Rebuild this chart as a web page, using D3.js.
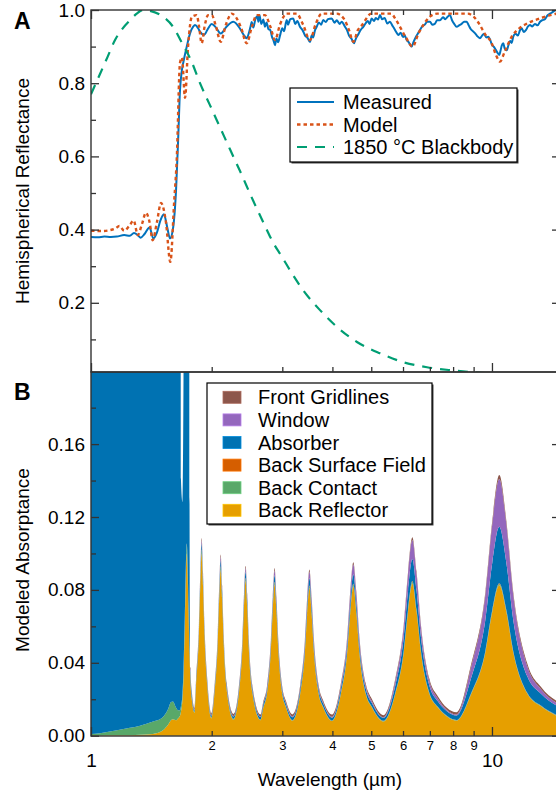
<!DOCTYPE html>
<html>
<head>
<meta charset="utf-8">
<script src="https://cdn.jsdelivr.net/npm/d3@7"></script>
<style>
body { margin: 0; background: #fff; }
svg { display: block; font-family: "Liberation Sans", Arial, sans-serif; }
</style>
</head>
<body>
<svg id="chart" width="556" height="795"></svg>
<script>
// ---- panel A : reflectance ----
var measuredWl = [1.00,1.04,1.08,1.12,1.16,1.21,1.25,1.28,1.31,1.33,1.36,1.40,1.43,1.46,1.49,1.52,1.55,1.574,1.60,1.63,1.65,1.667,1.685,1.70,
  1.733,1.766,1.80,1.817,1.85,1.87,1.913,1.96,2.00,2.05,2.106,2.18,2.264,2.35,2.40,2.445,2.48,2.50,2.516,2.54,2.57,2.60,2.614,2.63,2.66,2.69,
  2.716,2.74,2.77,2.80,2.83,2.85,2.877,2.90,2.93,2.96,3.00,3.03,3.076,3.10,3.14,3.195,3.23,3.27,3.32,3.37,3.42,3.46,3.49,3.517,3.55,3.58,
  3.62,3.655,3.70,3.75,3.796,3.85,3.90,3.984,4.05,4.10,4.17,4.22,4.30,4.35,4.40,4.46,4.528,4.57,4.65,4.70,4.776,4.85,4.90,4.95,5.012,5.08,
  5.13,5.20,5.257,5.32,5.40,5.48,5.567,5.64,5.70,5.77,5.838,5.92,6.00,6.06,6.128,6.20,6.25,6.307,6.37,6.45,6.53,6.614,6.70,6.80,6.90,7.006,
  7.10,7.20,7.30,7.42,7.55,7.65,7.76,7.859,7.95,8.05,8.166,8.28,8.40,8.52,8.648,8.75,8.85,8.984,9.10,9.20,9.333,9.45,9.55,9.68,9.79,9.90,
  10.00,10.10,10.20,10.30,10.43,10.50,10.58,10.67,10.76,10.88,11.00,11.10,11.20,11.30,11.45,11.60,11.75,11.86,12.00,12.15,12.30,12.44,
  12.60,12.80,13.00,13.18,13.35,13.55,13.75,13.95,14.20,14.44,14.80];
var measured = [.380,.379,.381,.380,.381,.385,.383,.391,.384,.378,.388,.406,.376,.392,.425,.442,.405,.376,.400,.510,.650,.780,.835,.858,
  .900,.936,.955,.959,.950,.941,.932,.950,.962,.952,.936,.955,.968,.950,.933,.923,.940,.955,.967,.952,.975,.983,.968,.986,.962,.974,
  .954,.966,.948,.945,.925,.918,.904,.922,.912,.930,.950,.942,.973,.960,.975,.977,.962,.970,.954,.945,.930,.925,.918,.913,.930,.925,
  .945,.954,.966,.960,.973,.967,.975,.977,.965,.972,.962,.968,.954,.945,.930,.922,.909,.920,.935,.945,.954,.965,.970,.962,.977,.970,
  .978,.974,.986,.975,.978,.963,.968,.958,.950,.940,.932,.938,.926,.930,.918,.912,.905,.900,.912,.925,.935,.945,.955,.960,.968,.968,
  .960,.962,.972,.972,.980,.975,.982,.986,.972,.962,.954,.958,.962,.968,.968,.958,.948,.941,.935,.928,.923,.930,.935,.925,.927,.918,
  .905,.900,.893,.885,.877,.888,.903,.909,.895,.890,.905,.915,.910,.927,.935,.930,.945,.950,.940,.945,.955,.959,
  .955,.962,.958,.968,.972,.975,.985,.990,.995,1.000,1.000];

var modelWl = [1.00,1.06,1.12,1.15,1.177,1.21,1.245,1.278,1.308,1.34,1.371,1.40,1.425,1.46,1.495,1.538,1.577,1.613,1.636,1.667,1.686,1.716,
  1.746,1.786,1.835,1.86,1.888,1.92,1.958,2.00,2.05,2.106,2.17,2.243,2.30,2.37,2.445,2.52,2.59,2.716,2.80,2.877,2.96,3.076,3.258,3.38,
  3.517,3.63,3.761,4.10,4.28,4.40,4.51,4.63,4.75,5.00,5.60,5.75,5.896,6.10,6.341,6.55,6.743,7.00,7.30,8.70,9.00,9.33,9.60,9.98,10.25,
  10.47,10.75,11.20,11.70,12.23,13.18,14.00,14.80];
var model = [.397,.396,.399,.403,.410,.397,.410,.425,.385,.415,.446,.420,.371,.420,.473,.420,.312,.480,.590,.855,.870,.760,
  .900,.982,.986,.955,.909,.955,.986,.986,.955,.913,.960,.990,.980,.950,.909,.955,.986,.986,.955,.918,.960,.990,.990,.960,
  .918,.960,.990,.990,.975,.945,.913,.945,.960,.990,.990,.975,.954,.925,.900,.935,.959,.982,.990,.990,.982,.959,.935,.910,.875,
  .859,.885,.927,.950,.963,.977,.986,.992];

var blackbodyWl = [1.00,1.053,1.10,1.148,1.20,1.251,1.30,1.348,1.40,1.512,1.60,1.686,1.78,1.87,1.98,2.097,2.22,2.353,2.535,2.70,2.844,3.00,
  3.135,3.378,3.725,4.107,4.606,5.257,5.998,6.886,7.859,8.814,9.80];
var blackbody = [.770,.825,.872,.918,.950,.972,.990,1.000,.998,.982,.955,.910,.860,.800,.740,.680,.620,.560,.480,.416,.365,.324,
  .289,.235,.180,.134,.093,.062,.038,.024,.016,.011,.0075];

// ---- panel B : modeled absorptance per layer ----
var wlB = [
  1.000,1.053,1.161,1.251,1.325,1.428,1.486,1.512,1.556,1.583,1.601,1.629,1.648,1.667,
  1.676,1.691,1.701,1.711,1.733,1.751,1.761,1.770,1.786,1.812,
  1.828,1.858,1.873,1.888,1.903,1.919,1.950, 1.997,
  2.035,2.070,2.088,2.106,2.124,2.143,2.180, 2.267,
  2.340,2.384,2.407,2.430,2.453,2.476,2.524, 2.647,
  2.688,2.747,2.808,2.839,2.870,2.901,2.933,2.998,3.064, 3.180,
  3.325,3.414,3.459,3.505,3.552,3.599,3.695,3.794, 3.990,
  4.200,4.352,4.430,4.510,4.591,4.673,4.843,5.018, 5.363,
  5.741,6.028,6.177,6.330,6.486,6.647,6.979,7.328, 7.72, 8.155,
  8.881,9.624,10.019,10.430,10.858,11.303,12.249,13.274, 14.80];
var backReflector = [
  .0001,.0001,.0002,.0003,.0005,.0010,.0020,.0030,.0060,.0085,.0090,.0085,.0095,.0110,
  .013,.020,.032,.055,.100,.068,.045,.030,.019,.0125,
  .027,.055,.082,.100,.082,.055,.027, .0095,
  .025,.050,.075,.091,.075,.050,.025, .0088,
  .024,.047,.070,.085,.070,.047,.024, .0085,
  .015,.023,.046,.068,.083,.068,.046,.023,.0155, .0082,
  .023,.045,.066,.081,.066,.045,.023,.0155, .0080,
  .023,.045,.067,.082,.067,.045,.023,.0155, .0078,
  .023,.046,.068,.0835,.068,.046,.023,.0155, .0105, .0082,
  .023,.0455,.068,.0825,.068,.0455,.023,.016, .0100];
var backContact = [
  .0009,.0013,.0028,.0040,.0050,.0068,.0070,.0072,.0085,.0100,.0098,.0070,.0045,.0030,
  .003,.003,.004,.004,.005,.003,.002,.001,.0006,.0004,
  .0006,.001,.0014,.0016,.0014,.001,.0006, .0004,
  .0005,.001,.0013,.0015,.0013,.001,.0005, .0004,
  .0005,.0008,.0011,.0012,.0011,.0008,.0005, .0003,
  .0003,.0004,.0007,.001,.0011,.001,.0007,.0004,.0003, .0003,
  .0004,.0007,.0009,.001,.0009,.0007,.0004,.0003, .0003,
  .0004,.0007,.0009,.001,.0009,.0007,.0004,.0003, .0003,
  .0004,.0007,.0009,.001,.0009,.0007,.0004,.0003, .0003, .0003,
  .0004,.0006,.0008,.0008,.0008,.0006,.0004,.0003, .0003];
var backSurfaceField = [
  0,0,0,0,0,0,0,0,0,0,0,0,0,0,
  0,0,0,0,.0005,.0004,.0003,.0002,.0001,.0001,
  .0002,.0003,.0004,.0005,.0004,.0003,.0002, .0001,
  .0002,.0003,.0004,.0005,.0004,.0003,.0002, .0001,
  .0002,.0003,.0004,.0004,.0004,.0003,.0002, .0001,
  .0001,.0002,.0003,.0003,.0004,.0003,.0003,.0002,.0001, .0001,
  .0002,.0003,.0003,.0004,.0003,.0003,.0002,.0001, .0001,
  .0002,.0003,.0003,.0004,.0003,.0003,.0002,.0001, .0001,
  .0002,.0003,.0003,.0004,.0003,.0003,.0002,.0001, .0001, .0001,
  .0002,.0003,.0003,.0003,.0003,.0003,.0002,.0001, .0001];
var absorber = [
  .60,.60,.60,.60,.60,.60,.60,.60,.60,.60,.60,.60,.60,.60,
  .125,.105,.160,.500,.500,.400,.080,.004,.002,.001,
  .0015,.002,.0028,.0032,.0028,.002,.0015, .001,
  .0015,.002,.0028,.0032,.0028,.002,.0015, .0012,
  .0016,.0022,.003,.0034,.003,.0022,.0016, .0013,
  .0015,.0017,.0024,.0032,.0036,.0032,.0024,.0017,.0015, .0015,
  .002,.0028,.0036,.004,.0036,.0028,.002,.0017, .0015,
  .0025,.0035,.0045,.005,.0045,.0035,.0025,.002, .0016,
  .004,.0075,.0105,.012,.0105,.0075,.004,.003, .0025, .0025,
  .0085,.017,.026,.031,.026,.017,.009,.0065, .0050];
var windowLayer = [
  0,0,0,0,0,0,0,0,0,0,0,0,0,0,
  0,0,0,0,0,0,.0005,.001,.0005,.0003,
  .0006,.001,.0015,.0018,.0015,.001,.0006, .0003,
  .0006,.001,.0015,.0018,.0015,.001,.0006, .0003,
  .0007,.0012,.0017,.002,.0017,.0012,.0007, .0003,
  .0005,.0008,.0015,.0022,.0026,.0022,.0015,.0008,.0005, .0004,
  .001,.002,.003,.0035,.003,.002,.001,.0006, .0005,
  .0015,.003,.0048,.0055,.0048,.003,.0015,.001, .0003,
  .0025,.0055,.0088,.0105,.0088,.0055,.0025,.0015, .0007, .0005,
  .006,.0135,.021,.0262,.021,.0135,.0055,.0025, .0015];
var frontGridlines = [
  0,0,0,0,0,0,0,0,0,0,0,0,0,0,
  0,0,0,0,0,0,.0005,.001,.001,.001,
  .0011,.0012,.0013,.0014,.0013,.0012,.0011, .001,
  .0011,.0012,.0013,.0014,.0013,.0012,.0011, .0011,
  .0011,.0012,.0013,.0013,.0013,.0012,.0011, .0011,
  .0011,.0011,.0012,.0013,.0013,.0013,.0012,.0011,.0011, .0012,
  .0012,.0013,.0013,.0013,.0013,.0013,.0012,.0011, .0012,
  .0012,.0013,.0013,.0013,.0013,.0013,.0012,.0012, .0011,
  .0013,.0014,.0015,.0015,.0015,.0014,.0013,.0013, .0012, .0012,
  .0015,.0017,.002,.0022,.002,.0017,.0015,.0012, .0010];

var layerNames = ["Front Gridlines","Window","Absorber","Back Surface Field","Back Contact","Back Reflector"];
var layerColors = ["#8c564b","#9467bd","#0072b2","#d55e00","#59a869","#e69f00"];

var reflTicks = [0.2,0.4,0.6,0.8,1.0];
var reflMinor = [0.1,0.3,0.5,0.7,0.9];
var absTicks = [0,0.04,0.08,0.12,0.16];
var absMinor = [0.02,0.06,0.10,0.14,0.18];
var wlMajor = [1,10];
var wlMinor = [2,3,4,5,6,7,8,9];

// ---- layout ----
var svg = d3.select("#chart");
var left = 91, right = 560;
var topA = 10, botA = 372, topB = 372, botB = 736;
var axisColor = "#333";

var x = d3.scaleLog().domain([1, 14.78]).range([left, right]);
var yA = d3.scaleLinear().domain([0, 1]).range([376, 10]);
var yB = d3.scaleLinear().domain([0, 0.2]).range([735.7, 371.2]);

var defs = svg.append("defs");
defs.append("clipPath").attr("id","clipA").append("rect")
  .attr("x", left).attr("y", topA).attr("width", right-left).attr("height", botA-topA);
defs.append("clipPath").attr("id","clipB").append("rect")
  .attr("x", left).attr("y", topB).attr("width", right-left).attr("height", botB-topB);

// ---- panel B areas ----
var keys = ["reflector","contact","bsf","absorber","window","grid"];
var rows = wlB.map(function(w, i){
  return {wl: w, reflector: backReflector[i], contact: backContact[i], bsf: backSurfaceField[i],
          absorber: absorber[i], window: windowLayer[i], grid: frontGridlines[i]};
});
var series = d3.stack().keys(keys)(rows);
var keyColor = {reflector:"#e69f00", contact:"#59a869", bsf:"#d55e00", absorber:"#0072b2", window:"#9467bd", grid:"#8c564b"};

var area = d3.area()
  .x(function(d){ return x(d.data.wl); })
  .y0(function(d){ return yB(d[0]); })
  .y1(function(d){ return yB(d[1]); })
  .curve(d3.curveMonotoneX);

svg.append("g").attr("clip-path","url(#clipB)")
  .selectAll("path").data(series).enter().append("path")
  .attr("d", area)
  .attr("fill", function(s){ return keyColor[s.key]; });

// ---- panel A lines ----
var gA = svg.append("g").attr("clip-path","url(#clipA)");
function lineOf(wls){
  return d3.line().x(function(d, i){ return x(wls[i]); }).y(function(d){ return yA(d); });
}
gA.append("path").datum(measured)
  .attr("d", lineOf(measuredWl).curve(d3.curveMonotoneX))
  .attr("fill","none").attr("stroke","#0072bd").attr("stroke-width",2);
gA.append("path").datum(model)
  .attr("d", lineOf(modelWl).curve(d3.curveMonotoneX))
  .attr("fill","none").attr("stroke","#d95319").attr("stroke-width",2.4)
  .attr("stroke-dasharray","3.5,3");
gA.append("path").datum(blackbody)
  .attr("d", lineOf(blackbodyWl).curve(d3.curveMonotoneX))
  .attr("fill","none").attr("stroke","#009e73").attr("stroke-width",2.2)
  .attr("stroke-dasharray","10,8");

// ---- axes ----
function frame(t, b){
  svg.append("rect").attr("x", left).attr("y", t).attr("width", right-left).attr("height", b-t)
    .attr("fill","none").attr("stroke", axisColor).attr("stroke-width",1.4);
}
frame(topA, botA);
frame(topB, botB);

function yAxis(scale, major, minor, fmt){
  svg.append("g").attr("transform","translate("+left+",0)")
    .call(d3.axisLeft(scale).tickValues(minor).tickSize(-5).tickFormat(""))
    .call(function(g){ g.select(".domain").remove(); });
  svg.append("g").attr("transform","translate("+left+",0)")
    .call(d3.axisLeft(scale).tickValues(major).tickSize(-8).tickPadding(6).tickFormat(d3.format(fmt)))
    .call(function(g){ g.select(".domain").remove(); g.selectAll("text").attr("font-size",19).attr("fill","#000").attr("font-family", null); });
  svg.append("g").attr("transform","translate("+right+",0)")
    .call(d3.axisRight(scale).tickValues(major).tickSize(-8).tickFormat(""))
    .call(function(g){ g.select(".domain").remove(); });
}
yAxis(yA, reflTicks, reflMinor, ".1f");
yAxis(yB, absTicks, absMinor, ".2f");

function xTicks(yPos, dir){
  var ax = dir === "top" ? d3.axisTop : d3.axisBottom;
  svg.append("g").attr("transform","translate(0,"+yPos+")")
    .call(ax(x).tickValues(wlMinor).tickSize(-5).tickFormat(""))
    .call(function(g){ g.select(".domain").remove(); });
  svg.append("g").attr("transform","translate(0,"+yPos+")")
    .call(ax(x).tickValues(wlMajor).tickSize(-9).tickFormat(""))
    .call(function(g){ g.select(".domain").remove(); });
}
xTicks(topA, "top");
xTicks(botA, "bottom");

// bottom axis of B with labels
svg.append("g").attr("transform","translate(0,"+botB+")")
  .call(d3.axisBottom(x).tickValues(wlMinor).tickSize(-5).tickPadding(5).tickFormat(d3.format("d")))
  .call(function(g){ g.select(".domain").remove(); g.selectAll("text").attr("font-size",13).attr("fill","#000").attr("font-family", null); });
svg.append("g").attr("transform","translate(0,"+botB+")")
  .call(d3.axisBottom(x).tickValues(wlMajor).tickSize(-9).tickPadding(18).tickFormat(d3.format("d")))
  .call(function(g){ g.select(".domain").remove(); g.selectAll("text").attr("font-size",19).attr("fill","#000").attr("font-family", null); });

svg.selectAll(".tick line").attr("stroke", axisColor).attr("stroke-width",1.3);

// ---- titles ----
svg.append("text").attr("transform","translate(29,191) rotate(-90)")
  .attr("text-anchor","middle").attr("font-size",19).text("Hemispherical Reflectance");
svg.append("text").attr("transform","translate(29,560) rotate(-90)")
  .attr("text-anchor","middle").attr("font-size",19).text("Modeled Absorptance");
svg.append("text").attr("x",330).attr("y",786)
  .attr("text-anchor","middle").attr("font-size",19).text("Wavelength (µm)");
svg.append("text").attr("x",14).attr("y",29).attr("font-size",23).attr("font-weight","bold").text("A");
svg.append("text").attr("x",14).attr("y",400).attr("font-size",23).attr("font-weight","bold").text("B");

// ---- legend A ----
function legendBox(x0, y0, w, h){
  svg.append("rect").attr("x", x0+1.5).attr("y", y0+1.5).attr("width", w).attr("height", h).attr("fill","#444");
  svg.append("rect").attr("x", x0).attr("y", y0).attr("width", w).attr("height", h)
    .attr("fill","#fff").attr("stroke","#000").attr("stroke-width",1.2);
}
legendBox(290, 88, 227, 74);
var legA = [
  {name:"Measured", color:"#0072bd", dash:null, w:2},
  {name:"Model", color:"#d95319", dash:"3.5,3", w:2.4},
  {name:"1850 °C Blackbody", color:"#009e73", dash:"10,8", w:2.2}
];
legA.forEach(function(d, i){
  var yy = 102 + i*22.5;
  svg.append("line").attr("x1",297).attr("x2",334).attr("y1",yy).attr("y2",yy)
    .attr("stroke", d.color).attr("stroke-width", d.w).attr("stroke-dasharray", d.dash);
  svg.append("text").attr("x",343).attr("y",yy+7).attr("font-size",20).text(d.name);
});

// ---- legend B ----
legendBox(207, 383, 225, 141);
layerNames.forEach(function(name, i){
  var yy = 397.3 + i*22.6;
  svg.append("rect").attr("x",223).attr("y",yy-6).attr("width",18).attr("height",12)
    .attr("fill", layerColors[i]).attr("stroke", d3.color(layerColors[i]).brighter(0.6)).attr("stroke-width",0.8);
  svg.append("text").attr("x",258).attr("y",yy+7).attr("font-size",20).text(name);
});
</script>
</body>
</html>
